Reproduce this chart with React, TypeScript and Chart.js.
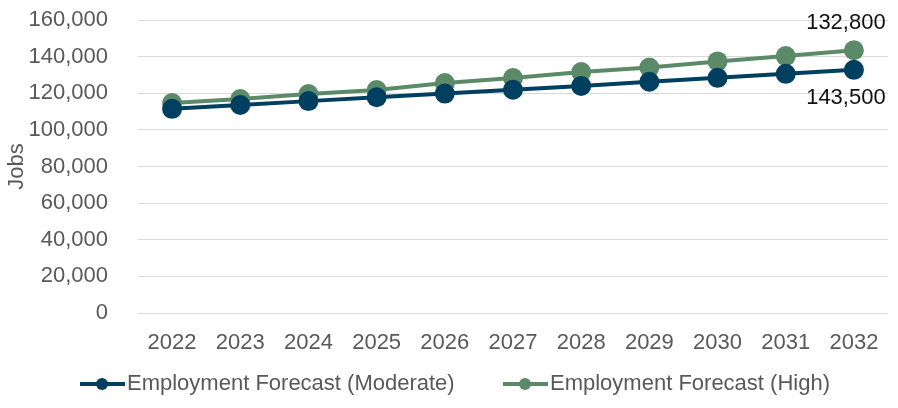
import React, { useEffect, useRef } from "react";
import { Chart, registerables } from "chart.js";

Chart.register(...registerables);

const years = ["2022", "2023", "2024", "2025", "2026", "2027", "2028", "2029", "2030", "2031", "2032"];
const moderate = [111500, 113600, 115700, 117800, 119800, 121900, 124000, 126300, 128400, 130600, 132800];
const high = [114700, 116800, 119600, 121800, 125600, 128300, 131600, 134000, 137400, 140300, 143500];
const seriesNames = ["Employment Forecast (Moderate)", "Employment Forecast (High)"];
const endLabels = ["143,500", "132,800"]; // as printed: below moderate end, above high end
const yTitle = "Jobs";

const DARK = "#003f5f";
const GREEN = "#5b8a69";
const FONT = "'Liberation Sans', Arial, sans-serif";

export default function App() {
  const ref = useRef<HTMLCanvasElement>(null);
  useEffect(() => {
    document.body.style.margin = "0";
    const labelPlugin = {
      id: "endLabels",
      afterDatasetsDraw(chart: any) {
        const ctx = chart.ctx;
        ctx.save();
        ctx.font = `22px ${FONT}`;
        ctx.fillStyle = "#111";
        ctx.textAlign = "center";
        ctx.textBaseline = "middle";
        const m0 = chart.getDatasetMeta(0).data;
        const m1 = chart.getDatasetMeta(1).data;
        const p0 = m0[m0.length - 1];
        const p1 = m1[m1.length - 1];
        ctx.fillText(endLabels[1], p1.x - 8, p1.y - 27);
        ctx.fillText(endLabels[0], p0.x - 8, p0.y + 28);
        ctx.restore();
      },
      afterDraw(chart: any) {
        const ctx = chart.ctx;
        ctx.save();
        ctx.font = `22px ${FONT}`;
        ctx.textBaseline = "middle";
        ctx.textAlign = "left";
        const cy = 384;
        const colors = [DARK, GREEN];
        const items = [{ x: 80 }, { x: 503 }];
        items.forEach((it, i) => {
          ctx.strokeStyle = colors[i];
          ctx.fillStyle = colors[i];
          ctx.lineWidth = 4;
          ctx.beginPath();
          ctx.moveTo(it.x, cy);
          ctx.lineTo(it.x + 45, cy);
          ctx.stroke();
          ctx.beginPath();
          ctx.arc(it.x + 22, cy, 6, 0, Math.PI * 2);
          ctx.fill();
          ctx.fillStyle = "#595959";
          ctx.fillText(seriesNames[i], it.x + 47, cy);
        });
        ctx.restore();
      },
    };
    const chart = new Chart(ref.current!, {
      type: "line",
      data: {
        labels: years,
        datasets: [
          {
            label: seriesNames[0],
            data: moderate,
            borderColor: DARK,
            backgroundColor: DARK,
            borderWidth: 4,
            pointRadius: 10,
            pointBackgroundColor: DARK,
            pointBorderWidth: 0,
          },
          {
            label: seriesNames[1],
            data: high,
            borderColor: GREEN,
            backgroundColor: GREEN,
            borderWidth: 4,
            pointRadius: 10,
            pointBackgroundColor: GREEN,
            pointBorderWidth: 0,
          },
        ],
      },
      options: {
        animation: false,
        responsive: false,
        layout: { padding: { top: 20, right: 7, bottom: 0, left: 0 } },
        plugins: { legend: { display: false }, tooltip: { enabled: false } },
        scales: {
          x: {
            offset: true,
            grid: { display: false, drawTicks: false },
            border: { display: false },
            ticks: { color: "#595959", font: { family: FONT, size: 22 }, padding: 17, maxRotation: 0 },
            afterFit(scale: any) {
              scale.height = 95;
              scale.paddingTop = 0;
              scale.paddingBottom = 0;
            },
          },
          y: {
            min: 0,
            max: 160000,
            grid: { color: "#d9d9d9", drawTicks: false, lineWidth: 1 },
            border: { display: false },
            ticks: {
              stepSize: 20000,
              color: "#595959",
              font: { family: FONT, size: 22 },
              padding: 30,
              callback: (v: any) => Number(v).toLocaleString("en-US"),
            },
            title: {
              display: true,
              text: yTitle,
              color: "#595959",
              font: { family: FONT, size: 22 },
              padding: { top: 4, bottom: 0 },
            },
            afterFit(scale: any) {
              scale.width = 138;
              scale.paddingTop = 0;
              scale.paddingBottom = 0;
            },
          },
        },
      },
      plugins: [labelPlugin],
    });
    return () => chart.destroy();
  }, []);
  return <canvas ref={ref} width={898} height={408} style={{ display: "block" }} />;
}
